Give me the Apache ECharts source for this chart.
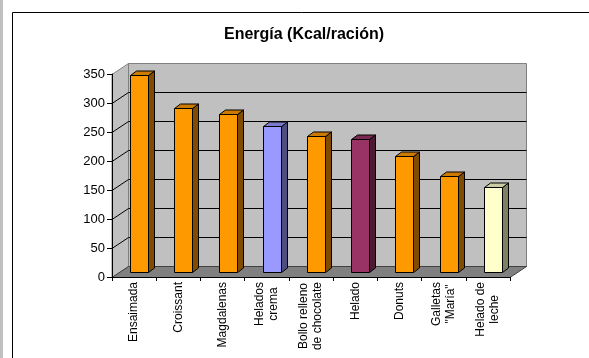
<!DOCTYPE html>
<html>
<head>
<meta charset="utf-8">
<script src="https://cdn.jsdelivr.net/npm/echarts@6/dist/echarts.min.js"></script>
<style>
  html, body { margin: 0; padding: 0; background: #fff; }
  #chart { width: 589px; height: 358px; }
</style>
</head>
<body>
<div id="chart"></div>
<script>
// Energy per serving of common pastries and ice creams
const categories = [
  'Ensaimada', 'Croissant', 'Magdalenas', 'Helados\ncrema',
  'Bollo relleno\nde chocolate', 'Helado', 'Donuts', 'Galletas\n"María"', 'Helado de\nleche'
];
const energyKcal = [340, 283, 273, 252, 235, 230, 200, 165, 147];
const yTicks = [0, 50, 100, 150, 200, 250, 300, 350];
const titleText = 'Energía (Kcal/ración)';

// Front-face colour of each column
const barColors = ['#FF9900', '#FF9900', '#FF9900', '#9999FF', '#FF9900', '#993366', '#FF9900', '#FF9900', '#FFFFCC'];

const FONT = '"Liberation Sans", Arial, Helvetica, sans-serif';

function shade(hex, f) {
  const n = parseInt(hex.slice(1), 16);
  const r = Math.round(((n >> 16) & 255) * f);
  const g = Math.round(((n >> 8) & 255) * f);
  const b = Math.round((n & 255) * f);
  return 'rgb(' + r + ',' + g + ',' + b + ')';
}

const crisp = v => Math.round(v - 0.5) + 0.5;

// Depth of the plot box (walls / floor) and of each column, in pixels
const WALL_DX = 16, WALL_DY = -11;
const BAR_DX = 6, BAR_DY = -4.5;
const BAR_LIFT_X = 6.5, BAR_LIFT_Y = -4.5;

function renderWalls(params, api) {
  const cs = params.coordSys;
  const x0 = cs.x, x1 = cs.x + cs.width;
  const yBase = crisp(api.coord([0, yTicks[0]])[1]);
  const yTop = crisp(api.coord([0, yTicks[yTicks.length - 1]])[1]);
  const bx0 = crisp(x0 + WALL_DX), bx1 = crisp(x1 + WALL_DX);
  const children = [
    {
      type: 'polygon', z2: 0,
      shape: { points: [[x0, yTop], [bx0, yTop + WALL_DY], [bx0, yBase + WALL_DY], [x0, yBase]] },
      style: { fill: '#c0c0c0', stroke: '#808080', lineWidth: 1 }
    },
    {
      type: 'polygon', z2: 0,
      shape: { points: [[bx0, yTop + WALL_DY], [bx1, yTop + WALL_DY], [bx1, yBase + WALL_DY], [bx0, yBase + WALL_DY]] },
      style: { fill: '#c0c0c0', stroke: '#808080', lineWidth: 1 }
    },
    {
      type: 'polygon', z2: 0,
      shape: { points: [[x0, yBase], [x1, yBase], [bx1, yBase + WALL_DY], [bx0, yBase + WALL_DY]] },
      style: { fill: '#808080', stroke: '#404040', lineWidth: 1 }
    }
  ];
  yTicks.forEach(function (t, i) {
    if (i === 0 || i === yTicks.length - 1) return;
    const y = crisp(api.coord([0, t])[1]);
    children.push({
      type: 'polyline', z2: 1,
      shape: { points: [[x0, y], [bx0, y + WALL_DY], [bx1, y + WALL_DY]] },
      style: { fill: null, stroke: '#000', lineWidth: 1 }
    });
  });
  return { type: 'group', children: children };
}

function renderBar(params, api) {
  const idx = api.value(0);
  const top = api.coord([idx, api.value(1)]);
  const base = api.coord([idx, 0]);
  const band = api.size([1, 0])[0];
  const w = Math.round(band * 0.41);
  const fx = Math.round(top[0] - w / 2 + BAR_LIFT_X - 1.5) + 0.5;
  const ty = crisp(top[1] + BAR_LIFT_Y);
  const by = crisp(base[1] + BAR_LIFT_Y);
  const c = barColors[idx];
  const line = { stroke: '#000', lineWidth: 1, lineJoin: 'round' };
  return {
    type: 'group',
    children: [
      {
        type: 'polygon',
        shape: { points: [[fx + w, ty], [fx + w + BAR_DX, ty + BAR_DY], [fx + w + BAR_DX, by + BAR_DY], [fx + w, by]] },
        style: Object.assign({ fill: shade(c, 0.5) }, line)
      },
      {
        type: 'polygon',
        shape: { points: [[fx, ty], [fx + BAR_DX, ty + BAR_DY], [fx + w + BAR_DX, ty + BAR_DY], [fx + w, ty]] },
        style: Object.assign({ fill: shade(c, 0.8) }, line)
      },
      {
        type: 'rect',
        shape: { x: fx, y: ty, width: w, height: by - ty },
        style: Object.assign({ fill: c }, line)
      }
    ]
  };
}

const chart = echarts.init(document.getElementById('chart'), null, { renderer: 'canvas' });

chart.setOption({
  animation: false,
  backgroundColor: '#ffffff',
  textStyle: { fontFamily: FONT },
  grid: { left: 112, right: 79, top: 74, bottom: 81 },
  graphic: [
    { type: 'rect', z: -10, silent: true, shape: { x: 0, y: 0, width: 3, height: 358 }, style: { fill: '#c0c0c0' } },
    { type: 'rect', z: -10, silent: true, shape: { x: 12.5, y: 12.5, width: 620, height: 400 }, style: { fill: null, stroke: '#000', lineWidth: 1 } },
    {
      type: 'text', z: 10, silent: true, x: 304, y: 27,
      style: { text: titleText, fill: '#000', font: 'bold 16px ' + FONT, textAlign: 'center', textVerticalAlign: 'top' }
    }
  ],
  xAxis: {
    type: 'category',
    data: categories,
    axisLine: { show: true, lineStyle: { color: '#000', width: 1 } },
    axisTick: { show: true, length: 4, alignWithLabel: false, lineStyle: { color: '#000' } },
    splitLine: { show: false },
    axisLabel: {
      interval: 0,
      rotate: 90,
      margin: 5,
      color: '#000',
      fontSize: 12,
      fontFamily: FONT,
      formatter: function (v) {
        return v.split('\n').map(function (s) { return '{c|' + s + '}'; }).join('\n');
      },
      rich: { c: { align: 'center', fontSize: 12, lineHeight: 14, fontFamily: FONT, color: '#000' } }
    }
  },
  yAxis: {
    type: 'value',
    min: 0,
    max: 350,
    interval: 50,
    axisLine: { show: true, lineStyle: { color: '#000', width: 1 } },
    axisTick: { show: true, length: 5, lineStyle: { color: '#000' } },
    splitLine: { show: false },
    axisLabel: { margin: 7, color: '#000', fontSize: 13, fontFamily: FONT }
  },
  series: [
    {
      type: 'custom',
      name: 'walls',
      z: -1,
      silent: true,
      clip: false,
      renderItem: renderWalls,
      data: [[0, 0]]
    },
    {
      type: 'custom',
      name: 'Energía',
      z: 3,
      clip: false,
      renderItem: renderBar,
      encode: { x: 0, y: 1 },
      data: energyKcal.map(function (v, i) { return [i, v]; })
    }
  ]
});
</script>
</body>
</html>
